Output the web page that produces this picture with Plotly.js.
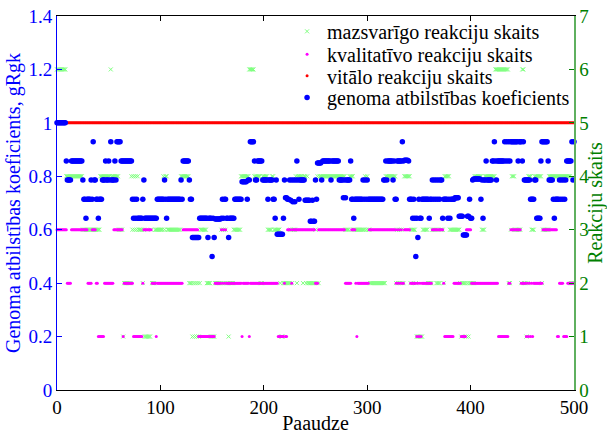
<!DOCTYPE html>
<html>
<head>
<meta charset="utf-8">
<script src="https://cdn.plot.ly/plotly-3.0.1.min.js"></script>
<style>
  html, body { margin: 0; padding: 0; background: #ffffff; }
  #chart { width: 607px; height: 434px; }
</style>
</head>
<body>
<div id="chart"></div>
<script>
// Genoma atbilstības koeficients (gRgk) katrā paaudzē 0..500
const genomaKoef = [
  1,1,1,1,1,1,1,1,1,0.857,
  0.786,0.786,0.786,0.786,0.857,0.857,0.857,0.857,0.857,0.857,
  0.857,0.857,0.857,0.857,0.857,0.786,0.714,0.714,0.643,0.714,
  0.714,0.714,0.714,0.786,0.714,0.929,0.786,0.786,0.714,0.714,
  0.643,0.714,0.714,0.714,0.786,0.786,0.786,0.857,0.786,0.786,
  0.857,0.786,0.929,0.786,0.786,0.786,0.857,0.786,0.929,0.929,
  0.929,0.929,0.857,0.857,0.857,0.857,0.857,0.857,0.857,0.857,
  0.857,0.857,0.857,0.714,0.643,0.714,0.643,0.714,0.643,0.643,
  0.643,0.643,0.643,0.714,0.786,0.643,0.643,0.643,0.643,0.643,
  0.643,0.643,0.643,0.643,0.643,0.643,0.643,0.714,0.714,0.714,
  0.714,0.714,0.714,0.714,0.786,0.714,0.643,0.714,0.714,0.714,
  0.714,0.714,0.714,0.714,0.714,0.714,0.714,0.714,0.714,0.714,
  0.786,0.714,0.857,0.857,0.857,0.857,0.857,0.857,0.786,0.714,
  0.714,0.571,0.571,0.571,0.571,0.571,0.571,0.571,0.643,0.643,
  0.643,0.643,0.643,0.643,0.643,0.643,0.571,0.643,0.643,0.643,
  0.5,0.643,0.571,0.64,0.64,0.64,0.64,0.64,0.64,0.643,
  0.714,0.643,0.714,0.714,0.643,0.643,0.571,0.643,0.643,0.643,
  0.643,0.643,0.714,0.714,0.714,0.714,0.714,0.714,0.714,0.78,
  0.78,0.78,0.78,0.78,0.714,0.786,0.786,0.929,0.929,0.929,
  0.929,0.857,0.786,0.786,0.857,0.857,0.857,0.857,0.857,0.786,
  0.786,0.786,0.786,0.786,0.714,0.786,0.786,0.786,0.786,0.714,
  0.714,0.643,0.786,0.583,0.583,0.583,0.583,0.583,0.583,0.643,
  0.786,0.72,0.72,0.714,0.714,0.786,0.71,0.786,0.705,0.786,
  0.705,0.786,0.857,0.786,0.714,0.786,0.786,0.786,0.786,0.786,
  0.71,0.71,0.71,0.71,0.71,0.632,0.632,0.71,0.632,0.632,
  0.786,0.714,0.85,0.85,0.85,0.85,0.786,0.857,0.857,0.857,
  0.857,0.857,0.857,0.857,0.857,0.786,0.857,0.857,0.857,0.857,
  0.857,0.857,0.857,0.786,0.786,0.786,0.786,0.72,0.786,0.72,
  0.786,0.786,0.786,0.786,0.857,0.714,0.714,0.643,0.714,0.714,
  0.714,0.714,0.714,0.714,0.714,0.714,0.786,0.714,0.786,0.714,
  0.786,0.714,0.714,0.714,0.714,0.714,0.714,0.714,0.714,0.714,
  0.714,0.714,0.714,0.714,0.714,0.714,0.786,0.786,0.857,0.786,
  0.857,0.857,0.857,0.857,0.857,0.786,0.857,0.714,0.714,0.857,
  0.857,0.857,0.857,0.857,0.929,0.857,0.86,0.86,0.86,0.86,
  0.857,0.714,0.714,0.714,0.643,0.714,0.643,0.5,0.643,0.571,
  0.714,0.643,0.643,0.714,0.714,0.714,0.714,0.714,0.714,0.714,
  0.643,0.714,0.714,0.786,0.714,0.786,0.714,0.786,0.714,0.786,
  0.714,0.786,0.786,0.643,0.714,0.714,0.714,0.714,0.643,0.714,
  0.643,0.714,0.714,0.714,0.714,0.72,0.72,0.72,0.72,0.65,
  0.65,0.65,0.65,0.58,0.58,0.58,0.58,0.65,0.65,0.714,
  0.643,0.643,0.786,0.79,0.79,0.79,0.79,0.79,0.79,0.79,
  0.714,0.786,0.643,0.786,0.786,0.857,0.786,0.786,0.786,0.786,
  0.786,0.857,0.857,0.929,0.857,0.786,0.857,0.857,0.857,0.857,
  0.857,0.857,0.857,0.929,0.857,0.929,0.857,0.929,0.857,0.929,
  0.929,0.929,0.929,0.929,0.929,0.929,0.857,0.929,0.929,0.929,
  0.857,0.929,0.786,0.786,0.786,0.786,0.786,0.786,0.714,0.714,
  0.714,0.714,0.786,0.786,0.643,0.643,0.643,0.643,0.857,0.929,
  0.929,0.929,0.929,0.929,0.929,0.857,0.786,0.786,0.786,0.786,
  0.714,0.643,0.714,0.714,0.714,0.714,0.786,0.714,0.786,0.714,
  0.786,0.714,0.786,0.857,0.857,0.857,0.857,0.857,0.929,0.786,
  0.929
];

// Mazsvarīgo reakciju skaits katrā paaudzē
const mazsvarigo = [
  6,6,6,6,6,6,6,6,6,4,
  4,4,4,4,4,4,4,4,4,4,
  4,4,4,4,4,3,3,3,3,3,
  3,3,3,3,3,3,3,3,3,3,
  3,3,4,4,4,4,4,4,4,4,
  4,4,6,4,4,4,4,4,4,4,
  3,3,3,3,1,2,2,2,2,2,
  2,2,4,3,4,3,4,3,4,3,
  3,3,3,2,3,1,1,1,1,1,
  1,3,2,2,2,3,3,3,3,3,
  3,3,3,4,3,4,4,3,3,3,
  3,3,3,3,3,3,3,3,3,3,
  4,4,4,4,4,4,4,4,2,2,
  2,1,2,1,2,1,2,1,2,3,
  3,3,3,3,3,2,2,2,2,1,
  1,1,1,2,2,2,2,2,2,3,
  2,3,2,3,2,2,1,2,2,2,
  2,3,3,3,3,3,3,3,4,4,
  4,4,4,4,4,4,6,6,6,6,
  6,4,4,4,4,4,4,2,2,4,
  4,4,4,4,3,3,3,3,4,4,
  3,3,3,3,3,3,2,1,1,2,
  2,2,2,2,2,2,3,2,3,3,
  3,4,2,4,4,4,4,4,2,4,
  4,2,4,2,2,2,2,2,2,2,
  3,2,4,2,4,4,4,4,4,4,
  4,4,4,4,4,4,4,4,4,4,
  4,4,4,4,4,4,4,4,4,3,
  3,3,3,4,4,4,4,3,3,3,
  3,3,3,3,3,3,3,3,4,3,
  4,3,3,2,2,2,2,2,2,2,
  2,2,2,2,2,2,2,2,4,4,
  4,4,4,4,4,4,4,4,2,3,
  2,3,2,3,2,2,4,4,4,4,
  4,4,2,3,3,3,3,2,1,1,
  1,1,1,1,3,3,3,3,3,2,
  2,2,2,3,3,3,3,2,2,2,
  2,3,3,3,2,4,4,4,4,4,
  3,3,3,3,3,3,3,3,3,3,
  2,1,2,2,2,2,1,2,1,2,
  2,2,2,2,4,4,4,4,4,4,
  4,3,3,3,4,4,4,4,4,4,
  4,4,4,4,6,6,6,6,6,6,
  6,6,6,6,6,6,6,2,2,3,
  4,4,4,3,3,3,3,3,3,2,
  6,6,2,2,1,2,4,4,4,3,
  3,3,4,4,4,4,4,4,4,2,
  3,3,3,3,3,3,4,4,4,4,
  4,4,4,4,4,4,4,4,4,4,
  4,4,4,4,4,4,4,2,2,2,
  2
];

// Kvalitatīvo reakciju skaits katrā paaudzē
const kvalitativo = [
  3,3,3,3,3,3,3,3,3,3,
  2,2,2,2,3,3,3,3,3,3,
  3,3,3,3,3,3,3,3,3,3,
  2,2,2,2,3,3,3,3,2,2,
  1,1,1,1,1,1,2,2,2,2,
  2,2,2,2,2,3,3,3,3,3,
  3,3,3,3,1,2,2,2,2,2,
  2,2,2,2,1,1,1,1,1,1,
  1,1,1,2,3,3,3,3,3,3,
  3,3,2,2,2,2,1,2,2,2,
  2,2,2,2,2,2,2,2,2,2,
  2,2,2,2,2,2,2,2,2,2,
  2,2,3,3,3,3,3,3,3,3,
  3,3,3,3,3,3,3,1,1,1,
  1,1,1,1,1,1,1,1,1,1,
  1,1,1,2,2,2,2,2,2,3,
  2,3,2,3,2,2,2,2,2,2,
  2,2,2,2,2,2,2,2,2,1,
  2,2,2,2,2,2,1,2,2,2,
  2,2,2,2,2,2,2,2,2,2,
  2,2,2,2,2,2,2,2,2,2,
  2,2,2,2,1,1,1,1,1,1,
  2,1,1,3,3,3,3,2,3,3,
  3,3,3,3,3,3,3,3,3,3,
  3,3,3,3,3,3,3,3,3,3,
  2,2,2,3,3,3,3,3,3,3,
  3,3,3,3,3,3,3,3,3,3,
  3,3,3,3,3,3,3,3,3,2,
  2,2,2,2,2,3,3,3,3,2,
  1,2,2,2,2,2,2,2,2,2,
  2,2,3,3,3,3,3,3,3,3,
  3,3,3,3,3,3,3,3,3,3,
  3,3,3,3,3,3,3,3,2,3,
  2,3,2,3,2,2,3,3,3,3,
  3,3,2,2,2,2,2,2,1,2,
  1,2,1,2,2,2,2,2,2,2,
  2,2,2,3,3,3,3,3,3,3,
  3,3,3,3,2,1,1,1,1,1,
  1,1,1,1,2,2,2,2,2,2,
  2,1,1,1,1,1,3,3,3,3,
  3,2,2,2,2,2,2,2,2,2,
  2,2,2,2,2,2,2,2,2,2,
  2,2,2,2,2,2,2,1,1,1,
  1,1,1,1,1,1,1,2,2,3,
  3,3,3,3,3,3,3,3,3,2,
  2,2,2,2,1,2,1,2,1,2,
  1,2,2,2,2,2,2,2,2,2,
  3,3,3,3,3,3,3,3,3,3,
  3,3,3,3,1,1,2,2,2,2,
  1,1,1,1,2,2,2,2,2,2,
  2
];

// Vitālo reakciju skaits katrā paaudzē
const vitalo = [
  5,5,5,5,5,5,5,5,5,5,5,5,5,5,5,5,5,5,5,5,5,5,5,5,5,5,5,5,5,5,5,5,5,5,5,5,5,5,5,5,5,5,5,5,5,5,5,5,5,5,
  5,5,5,5,5,5,5,5,5,5,5,5,5,5,5,5,5,5,5,5,5,5,5,5,5,5,5,5,5,5,5,5,5,5,5,5,5,5,5,5,5,5,5,5,5,5,5,5,5,5,
  5,5,5,5,5,5,5,5,5,5,5,5,5,5,5,5,5,5,5,5,5,5,5,5,5,5,5,5,5,5,5,5,5,5,5,5,5,5,5,5,5,5,5,5,5,5,5,5,5,5,
  5,5,5,5,5,5,5,5,5,5,5,5,5,5,5,5,5,5,5,5,5,5,5,5,5,5,5,5,5,5,5,5,5,5,5,5,5,5,5,5,5,5,5,5,5,5,5,5,5,5,
  5,5,5,5,5,5,5,5,5,5,5,5,5,5,5,5,5,5,5,5,5,5,5,5,5,5,5,5,5,5,5,5,5,5,5,5,5,5,5,5,5,5,5,5,5,5,5,5,5,5,
  5,5,5,5,5,5,5,5,5,5,5,5,5,5,5,5,5,5,5,5,5,5,5,5,5,5,5,5,5,5,5,5,5,5,5,5,5,5,5,5,5,5,5,5,5,5,5,5,5,5,
  5,5,5,5,5,5,5,5,5,5,5,5,5,5,5,5,5,5,5,5,5,5,5,5,5,5,5,5,5,5,5,5,5,5,5,5,5,5,5,5,5,5,5,5,5,5,5,5,5,5,
  5,5,5,5,5,5,5,5,5,5,5,5,5,5,5,5,5,5,5,5,5,5,5,5,5,5,5,5,5,5,5,5,5,5,5,5,5,5,5,5,5,5,5,5,5,5,5,5,5,5,
  5,5,5,5,5,5,5,5,5,5,5,5,5,5,5,5,5,5,5,5,5,5,5,5,5,5,5,5,5,5,5,5,5,5,5,5,5,5,5,5,5,5,5,5,5,5,5,5,5,5,
  5,5,5,5,5,5,5,5,5,5,5,5,5,5,5,5,5,5,5,5,5,5,5,5,5,5,5,5,5,5,5,5,5,5,5,5,5,5,5,5,5,5,5,5,5,5,5,5,5,5,
  5
];

// Paaudžu numuri (indekss)
const paaudzes = genomaKoef.map((_, i) => i);

const serif = '"Liberation Serif", "Times New Roman", Times, serif';

const traces = [
  {
    name: 'mazsvarīgo reakciju skaits', legend: 'legend',
    x: paaudzes, y: mazsvarigo, yaxis: 'y',
    type: 'scatter', mode: 'markers', cliponaxis: false,
    marker: { symbol: 'x-thin', size: 4, color: '#80ff80',
              line: { width: 1, color: '#80ff80' } }
  },
  {
    name: 'kvalitatīvo reakciju skaits', legend: 'legend2',
    x: paaudzes, y: kvalitativo, yaxis: 'y',
    type: 'scatter', mode: 'markers', cliponaxis: false,
    marker: { symbol: 'circle', size: 3, color: '#ff00ff' }
  },
  {
    name: 'vitālo reakciju skaits', legend: 'legend3',
    x: paaudzes, y: vitalo, yaxis: 'y',
    type: 'scatter', mode: 'markers', cliponaxis: false,
    marker: { symbol: 'circle', size: 3, color: '#ff0000' }
  },
  {
    name: 'genoma atbilstības koeficients', legend: 'legend4',
    x: paaudzes, y: genomaKoef, yaxis: 'y2',
    type: 'scatter', mode: 'markers', cliponaxis: false,
    marker: { symbol: 'circle', size: 5.5, color: '#0000ff' }
  }
];

// viena ieraksta leģenda noteiktā augstumā (papīra koordinātās)
function legendRow(yCenter) {
  return {
    x: 0.445, y: yCenter, xanchor: 'left', yanchor: 'middle',
    bgcolor: 'rgba(0,0,0,0)', borderwidth: 0,
    font: { family: serif, size: 20, color: '#000000' },
    itemwidth: 30
  };
}

const layout = {
  width: 607, height: 434,
  margin: { l: 57, r: 33, t: 12, b: 44, pad: 0 },
  paper_bgcolor: '#ffffff', plot_bgcolor: '#ffffff',
  font: { family: serif, size: 19, color: '#000000' },
  showlegend: true,
  legend: legendRow(0.959),
  legend2: legendRow(0.898),
  legend3: legendRow(0.840),
  legend4: legendRow(0.782),
  xaxis: {
    range: [0, 500], dtick: 100, tick0: 0,
    showgrid: false, zeroline: false,
    showline: true, linecolor: '#000000', linewidth: 1, mirror: 'ticks',
    ticks: 'inside', ticklen: 5, tickcolor: '#000000',
    tickfont: { family: serif, size: 19, color: '#000000' },
    title: { text: 'Paaudze', standoff: 7,
             font: { family: serif, size: 20, color: '#000000' } }
  },
  // labā ass: reakciju skaits
  yaxis: {
    side: 'right', range: [0, 7], dtick: 1, tick0: 0,
    showgrid: false, zeroline: false,
    showline: true, linecolor: '#5fb05f', linewidth: 1.5,
    ticks: 'inside', ticklen: 5, tickcolor: '#008000',
    tickfont: { family: serif, size: 19, color: '#008000' },
    title: { text: 'Reakciju skaits', standoff: 4,
             font: { family: serif, size: 20, color: '#008000' } }
  },
  // kreisā ass: genoma atbilstības koeficients
  yaxis2: {
    side: 'left', overlaying: 'y', range: [0, 1.4], dtick: 0.2, tick0: 0,
    showgrid: false, zeroline: false,
    showline: true, linecolor: '#0000ff', linewidth: 1,
    ticks: 'inside', ticklen: 5, tickcolor: '#0000ff',
    tickfont: { family: serif, size: 19, color: '#0000ff' },
    title: { text: 'Genoma atbilstības koeficients, gRgk', standoff: 2,
             font: { family: serif, size: 20, color: '#0000ff' } }
  }
};

Plotly.newPlot('chart', traces, layout, { staticPlot: true, displayModeBar: false });
</script>
</body>
</html>
